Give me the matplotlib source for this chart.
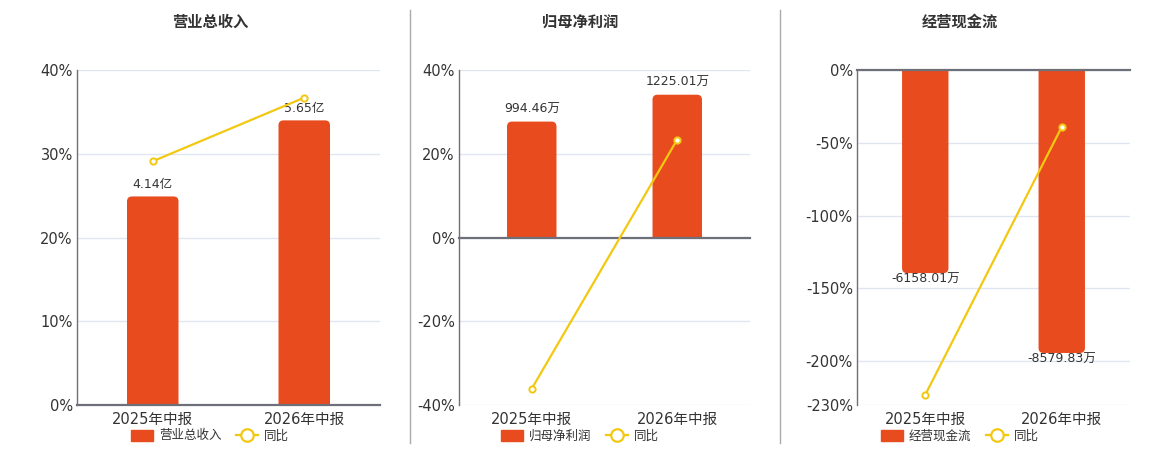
import matplotlib
matplotlib.use("Agg")
import matplotlib.pyplot as plt
from matplotlib.lines import Line2D
from matplotlib.patches import FancyBboxPatch, PathPatch
from matplotlib.path import Path

plt.rcParams['font.family'] = ['DejaVu Sans', 'Noto Sans CJK SC']

categories = ["2025年中报", "2026年中报"]
titles = ["营业总收入", "归母净利润", "经营现金流"]

revenue = [4.14, 5.65]            # 亿
revenue_labels = ["4.14亿", "5.65亿"]
revenue_yoy = [29.1, 36.7]        # %

profit = [994.46, 1225.01]        # 万
profit_labels = ["994.46万", "1225.01万"]
profit_yoy = [-36.1, 23.4]

cash = [-6158.01, -8579.83]       # 万
cash_labels = ["-6158.01万", "-8579.83万"]
cash_yoy = [-223.0, -39.1]

pct_ticks = [[0, 10, 20, 30, 40], [-40, -20, 0, 20, 40], [-230, -200, -150, -100, -50, 0]]
pct_lims = [(0, 40), (-40, 40), (-230, 0)]
bar_lims = [(0, 6.65), (-1437, 1437), (-10157, 0)]

BAR = "#E84C1E"
LINE = "#F2C811"
AX = "#6E7079"
GRID = "#E0E6F1"
TXT = "#333333"

W, H = 1160, 450
fig = plt.figure(figsize=(W / 100, H / 100), dpi=100)

panels = [(77, 380, 210), (459, 750, 580), (857, 1130, 960)]
bars_data = [revenue, profit, cash]
labels_data = [revenue_labels, profit_labels, cash_labels]
yoy_data = [revenue_yoy, profit_yoy, cash_yoy]

x = list(range(len(categories)))
RADIUS_PX = 5


def rounded_bar_path(x0, w, v, rx, ry):
    x1 = x0 + w
    s = 1 if v >= 0 else -1
    verts = [(x0, 0), (x0, v - s * ry), (x0, v), (x0 + rx, v),
             (x1 - rx, v), (x1, v), (x1, v - s * ry), (x1, 0), (x0, 0)]
    codes = [Path.MOVETO, Path.LINETO, Path.CURVE3, Path.CURVE3,
             Path.LINETO, Path.CURVE3, Path.CURVE3, Path.LINETO, Path.CLOSEPOLY]
    return Path(verts, codes)


for i, (l, r, cx) in enumerate(panels):
    top, bot = 70, 405
    rect = [l / W, (H - bot) / H, (r - l) / W, (bot - top) / H]
    ax = fig.add_axes(rect)
    ax.set_xlim(-0.5, 1.5)
    ax.set_ylim(*pct_lims[i])
    ax.set_yticks(pct_ticks[i])
    ax.set_yticklabels([f"{t}%" for t in pct_ticks[i]])
    ax.grid(axis='y', color=GRID, linewidth=1)
    ax.set_axisbelow(True)
    for s in ['top', 'right', 'bottom']:
        ax.spines[s].set_visible(False)
    ax.spines['left'].set_color(AX)
    ax.spines['left'].set_linewidth(1)
    ax.tick_params(axis='y', length=0, labelsize=10.5, labelcolor=TXT, pad=3)
    ax.set_xticks(x)
    ax.set_xticklabels(categories)
    ax.set_xticks([0.5, 1.5], minor=True)
    ax.tick_params(axis='x', which='major', length=0, labelsize=10.5, labelcolor=TXT, pad=5)
    ax.tick_params(axis='x', which='minor', length=0)

    # bars
    axb = ax.twinx()
    axb.set_ylim(*bar_lims[i])
    axb.patch.set_visible(False)
    axb.axis('off')
    bars = axb.bar(x, bars_data[i], width=0.34, color=BAR, zorder=2)
    ypu = (bar_lims[i][1] - bar_lims[i][0]) / (bot - top)   # y units per px
    xpu = 2.0 / (r - l)                                      # x units per px
    for b, lab, v in zip(bars, labels_data[i], bars_data[i]):
        x0, w = b.get_x(), b.get_width()
        b.set_visible(False)
        axb.add_patch(PathPatch(rounded_bar_path(x0, w, v, RADIUS_PX * xpu, RADIUS_PX * ypu),
                                facecolor=BAR, edgecolor='none', zorder=2))
        if v >= 0:
            axb.annotate(lab, (x0 + w / 2, v), xytext=(0, 4),
                         textcoords='offset points', ha='center', va='bottom',
                         fontsize=9, color=TXT)
        else:
            axb.annotate(lab, (x0 + w / 2, v), xytext=(0, 0),
                         textcoords='offset points', ha='center', va='top',
                         fontsize=9, color=TXT)

    # line + axis line
    axl = ax.twinx()
    axl.set_ylim(*pct_lims[i])
    axl.patch.set_visible(False)
    for s in ['top', 'right', 'left']:
        axl.spines[s].set_visible(False)
    axl.spines['bottom'].set_visible(True)
    axl.spines['bottom'].set_position(('data', 0))
    axl.spines['bottom'].set_color(AX)
    axl.spines['bottom'].set_linewidth(1.6)
    axl.set_yticks([])
    axl.tick_params(axis='x', which='major', bottom=False, labelbottom=False)
    axl.tick_params(axis='x', which='minor', bottom=True, length=5, width=1,
                    color=AX, direction='out')
    axl.plot(x, yoy_data[i], color=LINE, linewidth=1.6, marker='o', markersize=4.5,
             markerfacecolor='white', markeredgecolor=LINE, markeredgewidth=1.4,
             zorder=3, clip_on=False)

    # title
    fig.text(cx / W, 1 - 22 / H, titles[i], ha='center', va='center',
             fontsize=11, fontweight='bold', color=TXT)

    # legend
    handles = [
        FancyBboxPatch((0, 0), 1, 1, boxstyle='round,pad=0,rounding_size=0.3', color=BAR),
        Line2D([], [], color=LINE, linewidth=1.6, marker='o', markersize=9,
               markerfacecolor='white', markeredgecolor=LINE, markeredgewidth=1.6),
    ]
    fig.legend(handles, [titles[i], "同比"], loc='center', ncol=2,
               bbox_to_anchor=(cx / W, 1 - 436 / H), frameon=False,
               fontsize=9, labelcolor=TXT, handlelength=1.7, handleheight=1.0,
               columnspacing=1.2, handletextpad=0.5)

# separators
for sx in [410, 780]:
    fig.add_artist(Line2D([sx / W, sx / W], [1 - 10 / H, 1 - 443 / H], color="#AAAAAA", linewidth=1))

fig.savefig("out.png", dpi=100, facecolor='white')
